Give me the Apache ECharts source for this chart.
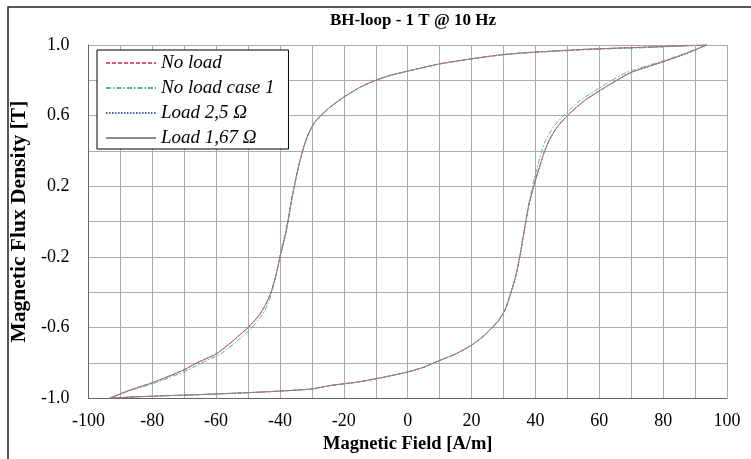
<!DOCTYPE html>
<html>
<head>
<meta charset="utf-8">
<script src="https://cdn.jsdelivr.net/npm/echarts@6/dist/echarts.min.js"></script>
<style>html,body{margin:0;padding:0;background:#fff;}#c{width:751px;height:459px;}</style>
</head>
<body>
<div id="c"></div>
<script>
// Tick labels
const xTickLabels = [-100, -80, -60, -40, -20, 0, 20, 40, 60, 80, 100];
const yTickLabels = ['-1.0', '-0.6', '-0.2', '0.2', '0.6', '1.0'];

// Upper (descending) branch, common to No load / Load 2,5 / Load 1,67
const upperH = [93.6, 85, 75, 65, 55, 45, 35, 29, 20, 10, 0, -5, -10, -15, -20.9, -24.5, -27.2, -29.2, -31.0, -32.6, -34.2, -35.5, -36.6, -37.5, -38.4, -40, -41.2, -42.6, -44.2, -46.5, -50, -55, -60, -66, -70, -80, -87, -93.3];
const upperB = [1.0, 0.995, 0.988, 0.982, 0.975, 0.965, 0.954, 0.944, 0.922, 0.893, 0.852, 0.83, 0.80, 0.76, 0.694, 0.645, 0.60, 0.56, 0.50, 0.42, 0.31, 0.2, 0.1, 0.0, -0.083, -0.2, -0.3, -0.39, -0.46, -0.53, -0.6, -0.68, -0.75, -0.80, -0.84, -0.913, -0.955, -1.0];
// Lower (ascending) branch
const lowerH = [-93.3, -85, -75, -65, -55, -45, -35, -30, -24, -16, -8.4, 0, 5, 10, 15, 20, 24, 26.5, 28.5, 30.5, 32.2, 33.9, 35.1, 36.2, 37.0, 37.9, 39.0, 40.1, 41.3, 42.7, 44.3, 46.6, 50, 55, 60, 65, 70, 80, 87, 93.6];
const lowerB = [-1.0, -0.993, -0.986, -0.98, -0.973, -0.965, -0.955, -0.948, -0.928, -0.91, -0.885, -0.852, -0.825, -0.787, -0.75, -0.70, -0.645, -0.60, -0.56, -0.50, -0.41, -0.305, -0.2, -0.083, 0.0, 0.09, 0.17, 0.24, 0.31, 0.39, 0.46, 0.53, 0.6, 0.68, 0.74, 0.795, 0.845, 0.905, 0.95, 1.0];

// No load case 1 (slightly wider knees)
const case1UpperH = [93.6, 85, 75, 65, 55, 45, 35, 29, 20, 10, 0, -5, -10, -15, -20.9, -24.5, -27.2, -29.2, -31.0, -32.6, -34.2, -35.5, -36.6, -37.6, -38.6, -40.1, -41.2, -42.4, -43.6, -45.6, -48.8, -53.6, -58.6, -64.5, -68.6, -79.0, -86.5, -93.3];
const case1UpperB = [1.0, 0.993, 0.985, 0.979, 0.972, 0.963, 0.952, 0.942, 0.921, 0.892, 0.852, 0.83, 0.80, 0.76, 0.694, 0.645, 0.60, 0.56, 0.50, 0.42, 0.31, 0.2, 0.1, 0.0, -0.083, -0.2, -0.3, -0.39, -0.46, -0.53, -0.6, -0.68, -0.75, -0.80, -0.84, -0.913, -0.955, -1.0];
const case1LowerH = [-93.3, -85, -75, -65, -55, -45, -35, -30, -24, -16, -8.4, 0, 5, 10, 15, 20, 24, 26.5, 28.5, 30.5, 32.2, 33.9, 35.1, 36.2, 37.0, 37.8, 38.7, 39.6, 40.6, 41.8, 43.2, 45.4, 48.8, 53.6, 58.6, 63.5, 68.6, 79.0, 86.5, 93.6];
const case1LowerB = [-1.0, -0.993, -0.986, -0.98, -0.973, -0.965, -0.955, -0.948, -0.928, -0.91, -0.885, -0.852, -0.825, -0.787, -0.75, -0.70, -0.645, -0.60, -0.56, -0.50, -0.41, -0.305, -0.2, -0.083, 0.0, 0.09, 0.17, 0.24, 0.31, 0.39, 0.46, 0.53, 0.6, 0.68, 0.74, 0.795, 0.845, 0.905, 0.95, 1.0];

const seriesNames = ['No load', 'No load case 1', 'Load 2,5 Ω', 'Load 1,67 Ω'];

function loop(uh, ub, lh, lb) {
  const d = [];
  for (let i = 0; i < uh.length; i++) d.push([uh[i], ub[i]]);
  for (let i = 0; i < lh.length; i++) {
    const last = d[d.length - 1];
    if (last[0] === lh[i] && last[1] === lb[i]) continue;
    d.push([lh[i], lb[i]]);
  }
  return d;
}

const FONT = '"Liberation Serif", "Times New Roman", serif';
const chart = echarts.init(document.getElementById('c'), null, {renderer: 'canvas'});

function mkSeries(name, data, color, type, z) {
  return {
    name: name, type: 'line', data: data, symbol: 'none', showSymbol: false,
    smooth: 0.2,
    lineStyle: {color: color, width: 1, type: type}, itemStyle: {color: color},
    z: z, animation: false
  };
}

chart.setOption({
  animation: false,
  backgroundColor: '#fff',
  graphic: [{
    type: 'rect', shape: {x: 8, y: 7, width: 800, height: 500},
    style: {fill: 'none', stroke: '#222', lineWidth: 1.5}, silent: true, z: -1
  }],
  title: {
    text: 'BH-loop - 1 T @ 10 Hz', left: 330, top: 12, padding: 0,
    textStyle: {fontFamily: FONT, fontWeight: 'bold', fontSize: 17, color: '#000'}
  },
  grid: {left: 87, right: 24, top: 45, bottom: 54, containLabel: false},
  legend: {
    data: seriesNames, orient: 'vertical', left: 97, top: 50,
    padding: [3, 14, 1, 8], itemGap: 5, itemWidth: 50, itemHeight: 14,
    backgroundColor: '#fff', borderColor: '#000', borderWidth: 1,
    itemStyle: {opacity: 0},
    textStyle: {fontFamily: FONT, fontStyle: 'italic', fontSize: 19, color: '#000', lineHeight: 20},
    z: 10
  },
  xAxis: {
    type: 'value', min: -100, max: 100, interval: 10,
    name: 'Magnetic Field [A/m]', nameLocation: 'middle', nameGap: 28,
    nameTextStyle: {fontFamily: FONT, fontWeight: 'bold', fontSize: 18.5, color: '#000'},
    axisLine: {show: true, onZero: false, lineStyle: {color: '#666', width: 1}},
    axisTick: {show: false},
    axisLabel: {
      fontFamily: FONT, fontSize: 18, color: '#000', margin: 14,
      formatter: function (v) { const r = Math.round(v); return xTickLabels.indexOf(r) >= 0 ? String(r) : ''; }
    },
    splitLine: {show: true, lineStyle: {color: '#aaa', width: 1}}
  },
  yAxis: {
    type: 'value', min: -1, max: 1, interval: 0.2,
    name: 'Magnetic Flux Density [T]', nameLocation: 'middle', nameGap: 48, nameRotate: 90,
    nameTextStyle: {fontFamily: FONT, fontWeight: 'bold', fontSize: 21.5, color: '#000'},
    axisLine: {show: true, onZero: false, lineStyle: {color: '#666', width: 1}},
    axisTick: {show: false},
    axisLabel: {
      fontFamily: FONT, fontSize: 18, color: '#000', margin: 19,
      formatter: function (v) { const s = (Math.round(v * 10) / 10).toFixed(1); return yTickLabels.indexOf(s) >= 0 ? s : ''; }
    },
    splitLine: {show: true, lineStyle: {color: '#aaa', width: 1}}
  },
  series: [
    mkSeries(seriesNames[3], loop(upperH, upperB, lowerH, lowerB), '#8c8c8c', 'solid', 2),
    mkSeries(seriesNames[2], loop(upperH, upperB, lowerH, lowerB), '#4a64b4', [1.5, 1.5], 3),
    mkSeries(seriesNames[1], loop(case1UpperH, case1UpperB, case1LowerH, case1LowerB), '#4fb4a4', [5, 2, 1.5, 2], 4),
    mkSeries(seriesNames[0], loop(upperH, upperB, lowerH, lowerB), '#dc5a6e', [4, 2], 5)
  ]
});
</script>
</body>
</html>
